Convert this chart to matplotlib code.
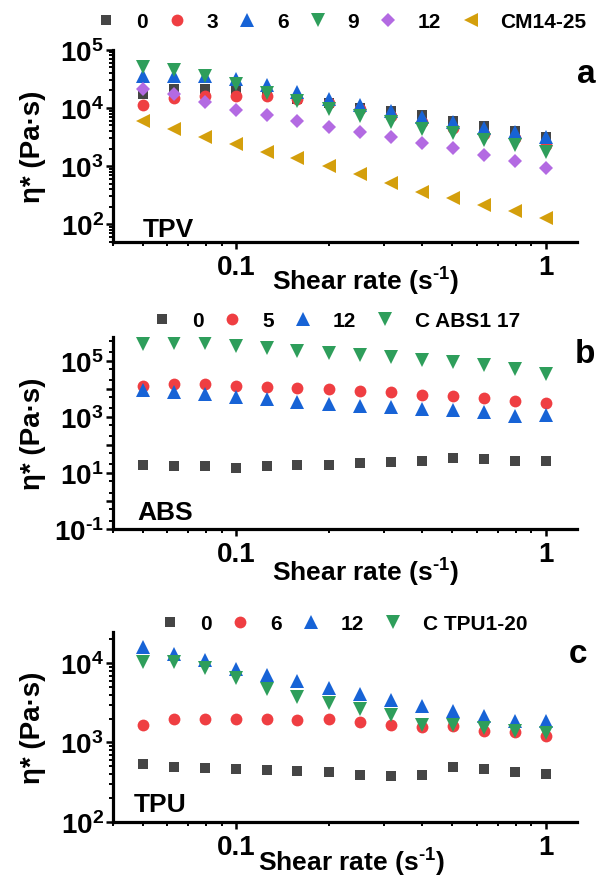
import numpy as np
import matplotlib
matplotlib.use('Agg')
import matplotlib.pyplot as plt
from matplotlib.ticker import FixedLocator, NullFormatter, FuncFormatter

plt.rcParams['font.family'] = ['Liberation Sans', 'DejaVu Sans']
plt.rcParams['font.weight'] = 'bold'
plt.rcParams['mathtext.fontset'] = 'custom'
plt.rcParams['mathtext.rm'] = 'Liberation Sans:bold'
plt.rcParams['mathtext.bf'] = 'Liberation Sans:bold'
plt.rcParams['mathtext.default'] = 'bf'

# shear rate (1/s), shared by all panels
shear = [0.0501, 0.0631, 0.0794, 0.1, 0.126, 0.158, 0.2, 0.251, 0.316, 0.398, 0.501, 0.631, 0.794, 1.0]

# panel a: TPV
tpv_labels = ['0', '3', '6', '9', '12', 'CM14-25']
tpv_0 = [17100, 21500, 21500, 19600, 17000, 14000, 12000, 10000, 8800, 7400, 5900, 4800, 4000, 3200]
tpv_3 = [11000, 14500, 16000, 16000, 16000, 14000, 12000, 9400, 7200, 5750, 4540, 3600, 3000, 2300]
tpv_6 = [34700, 35000, 35000, 31100, 24500, 18800, 14000, 11000, 8800, 7050, 5770, 4540, 3800, 3100]
tpv_9 = [49500, 45100, 35500, 25500, 18300, 13100, 9400, 7200, 5680, 4360, 3630, 2850, 2300, 1770]
tpv_12 = [21000, 17100, 12600, 9160, 7400, 5900, 4730, 3800, 3130, 2500, 2040, 1570, 1220, 930]
tpv_cm = [6000, 4250, 3130, 2400, 1720, 1380, 1000, 718, 517, 360, 277, 218, 170, 126]

# panel b: ABS
abs_labels = ['0', '5', '12', 'C ABS1 17']
abs_0 = [18.8, 17.8, 17.0, 14.4, 17.0, 18.8, 19.3, 21.7, 23.5, 27.0, 33.5, 31.0, 27.0, 27.0]
abs_5 = [12800, 14700, 14700, 12800, 11700, 10600, 9500, 8500, 7450, 6100, 5620, 4660, 3740, 3000]
abs_12 = [9000, 7450, 6470, 5180, 4280, 3240, 2840, 2470, 2160, 1880, 1740, 1430, 1090, 1150]
abs_c = [394000, 417000, 417000, 343000, 285000, 216000, 183000, 160000, 139000, 109000, 87000, 70000, 49000, 33500]

# panel c: TPU
tpu_labels = ['0', '6', '12', 'C TPU1-20']
tpu_0 = [530, 493, 474, 460, 452, 438, 430, 387, 380, 387, 493, 457, 430, 398]
tpu_6 = [1680, 1970, 2000, 1970, 1970, 1930, 1970, 1790, 1650, 1550, 1600, 1400, 1340, 1210]
tpu_12 = [15800, 13000, 11000, 8570, 7060, 5990, 4930, 4060, 3450, 2880, 2500, 2160, 1870, 1880]
tpu_c = [10400, 10400, 8820, 6600, 4790, 3800, 3130, 2630, 2200, 1680, 1640, 1520, 1400, 1300]

GRAY = '#454545'
RED = '#ef3e42'
BLUE = '#1763d6'
GREEN = '#2e9e5b'
PURPLE = '#b36ae2'
GOLD = '#d49f0c'

W, H = 602, 878
fig = plt.figure(figsize=(W / 100, H / 100), dpi=100)

left = 112.7 / W
width = 464 / W
ax_a = fig.add_axes([left, 1 - 242.7 / H, width, 192 / H])
ax_b = fig.add_axes([left, 1 - 530 / H, width, 192 / H])
ax_c = fig.add_axes([left, 1 - 822.7 / H, width, 190 / H])

x_minor = [m * 10.0 ** e for e in (-2, -1) for m in range(2, 10) if 0.04 <= m * 10.0 ** e <= 1.26]


def style(ax, ylim, ymajor, ylabeled, yminor):
    ax.set_xscale('log')
    ax.set_yscale('log')
    ax.set_xlim(0.04, 1.26)
    ax.set_ylim(*ylim)
    for s in ['top', 'right']:
        ax.spines[s].set_visible(False)
    for s in ['left', 'bottom']:
        ax.spines[s].set_linewidth(2.3)
    ax.xaxis.set_major_locator(FixedLocator([0.1, 1.0]))
    ax.xaxis.set_major_formatter(FuncFormatter(lambda v, p: '0.1' if v < 0.5 else '1'))
    ax.xaxis.set_minor_locator(FixedLocator(x_minor))
    ax.xaxis.set_minor_formatter(NullFormatter())
    ax.yaxis.set_major_locator(FixedLocator(ymajor))
    ax.yaxis.set_major_formatter(FuncFormatter(
        lambda v, p: r'$10^{\text{%d}}$' % round(np.log10(v)) if round(np.log10(v)) in ylabeled else ''))
    ax.yaxis.set_minor_locator(FixedLocator(yminor))
    ax.yaxis.set_minor_formatter(NullFormatter())
    ax.tick_params(which='major', direction='out', length=5, width=1.8, labelsize=20)
    ax.tick_params(which='minor', direction='out', length=3, width=1.4)
    ax.tick_params(axis='x', which='major', pad=4)
    ax.tick_params(axis='y', which='major', pad=1.5)
    ax.text(-0.172, 0.5, u'\u03b7* (Pa\u00b7s)', transform=ax.transAxes, rotation=90,
            ha='center', va='center', fontsize=20, fontweight='bold')


def minor_ticks(lo, hi, subs):
    return [m * 10.0 ** e for e in range(lo, hi) for m in subs]


def scatter(ax, y, marker, color, ms, label):
    h, = ax.plot(shear, y, ls='none', marker=marker, color=color, ms=ms,
                 markeredgewidth=0, label=label)
    return h


def legend(ax, handles, x0, yc):
    ax.legend(handles=handles, loc='center left', bbox_to_anchor=(x0 / W, 1 - yc / H),
              bbox_transform=fig.transFigure, ncol=len(handles), frameon=False,
              handlelength=1.0, handletextpad=0.93, columnspacing=0.9,
              borderpad=0, borderaxespad=0,
              prop={'size': 15, 'weight': 'bold'})


def xlabel(ax, xf, yf):
    ax.text(xf, yf, r'Shear rate (s$^{\text{-1}}$)', transform=ax.transAxes,
            ha='center', va='center', fontsize=19, fontweight='bold')


# panel a
hs = [scatter(ax_a, tpv_0, 's', GRAY, 7.5, tpv_labels[0]),
      scatter(ax_a, tpv_3, 'o', RED, 8.5, tpv_labels[1]),
      scatter(ax_a, tpv_6, '^', BLUE, 9.5, tpv_labels[2]),
      scatter(ax_a, tpv_9, 'v', GREEN, 9.5, tpv_labels[3]),
      scatter(ax_a, tpv_12, 'D', PURPLE, 7, tpv_labels[4]),
      scatter(ax_a, tpv_cm, '<', GOLD, 9.5, tpv_labels[5])]
style(ax_a, (50, 1e5), [1e2, 1e3, 1e4, 1e5], {2, 3, 4, 5}, minor_ticks(1, 5, range(2, 10)))
legend(ax_a, hs, 95.5, 22.7)
xlabel(ax_a, 0.544, -0.205)
fig.text(143 / W, 1 - 237 / H, 'TPV', fontsize=19, fontweight='bold', ha='left', va='baseline')
fig.text(586 / W, 1 - 83 / H, 'a', fontsize=24, fontweight='bold', ha='center', va='baseline')

# panel b
hs = [scatter(ax_b, abs_0, 's', GRAY, 7.5, abs_labels[0]),
      scatter(ax_b, abs_5, 'o', RED, 8.5, abs_labels[1]),
      scatter(ax_b, abs_12, '^', BLUE, 9.5, abs_labels[2]),
      scatter(ax_b, abs_c, 'v', GREEN, 9.5, abs_labels[3])]
style(ax_b, (0.1, 7e5), [10.0 ** e for e in range(-1, 6)], {-1, 1, 3, 5},
      minor_ticks(-1, 6, (2, 5)))
legend(ax_b, hs, 151.5, 321.7)
xlabel(ax_b, 0.544, -0.221)
fig.text(137 / W, 1 - 520 / H, 'ABS', fontsize=19, fontweight='bold', ha='left', va='baseline')
fig.text(585 / W, 1 - 363 / H, 'b', fontsize=24, fontweight='bold', ha='center', va='baseline')

# panel c
hs = [scatter(ax_c, tpu_0, 's', GRAY, 7.5, tpu_labels[0]),
      scatter(ax_c, tpu_6, 'o', RED, 8.5, tpu_labels[1]),
      scatter(ax_c, tpu_12, '^', BLUE, 9.5, tpu_labels[2]),
      scatter(ax_c, tpu_c, 'v', GREEN, 9.5, tpu_labels[3])]
style(ax_c, (100, 2.5e4), [1e2, 1e3, 1e4], {2, 3, 4}, minor_ticks(2, 5, range(2, 10)))
legend(ax_c, hs, 159.5, 625)
xlabel(ax_c, 0.514, -0.209)
fig.text(134 / W, 1 - 811.7 / H, 'TPU', fontsize=19, fontweight='bold', ha='left', va='baseline')
fig.text(578 / W, 1 - 663 / H, 'c', fontsize=24, fontweight='bold', ha='center', va='baseline')

fig.savefig('out.png', dpi=100)
